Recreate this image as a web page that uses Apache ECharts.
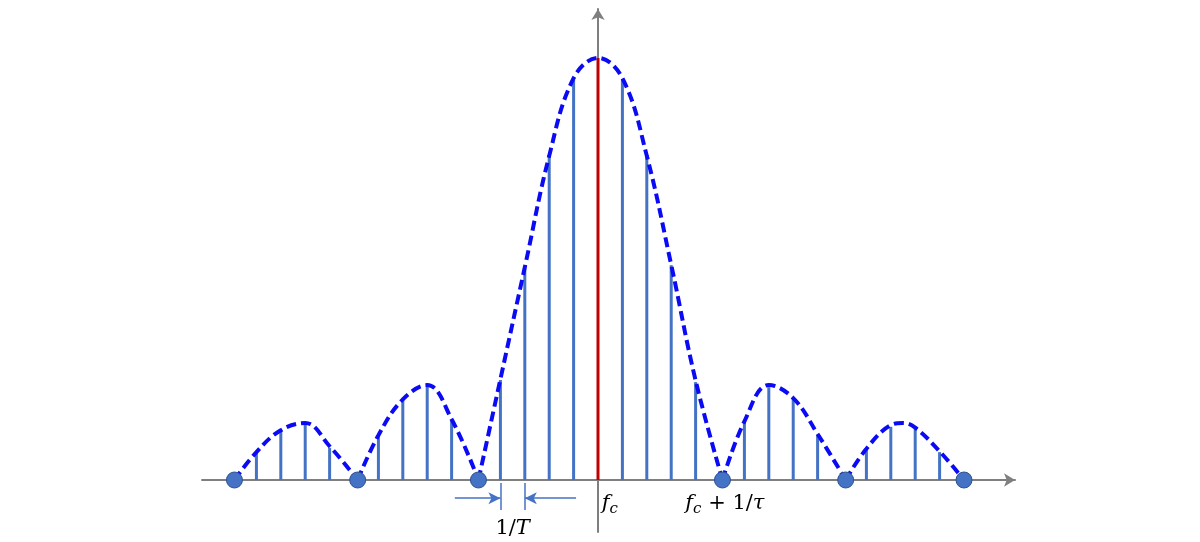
<!DOCTYPE html>
<html><head><meta charset="utf-8">
<script src="https://cdn.jsdelivr.net/npm/echarts@6/dist/echarts.min.js"></script>
<style>html,body{margin:0;padding:0;background:#fff}#c{width:1200px;height:542px}</style>
</head><body><div id="c"></div>
<script>
// Stem positions (in units of 1/T from f_c) and heights (% of peak)
const stemK = [-14,-13,-12,-11,-9,-8,-7,-6,-4,-3,-2,-1,0,1,2,3,4,6,7,8,9,11,12,13,14];
const stemH = [6.4,11.6,13.3,7.6,10.4,19.0,22.3,14.2,23.7,50.2,76.5,94.8,100,94.8,76.5,50.9,23.2,13.7,22.0,19.2,10.7,7.1,12.6,12.1,6.6];
// Zero crossings (dots)
const zeroK = [-14.9,-9.85,-4.9,5.1,10.15,15.0];
// Dashed envelope, one array per lobe: [k, height]
const envOuterLeft = [[-14.9,0],[-14,6.6],[-13,11.8],[-12,13.5],[-11,8.0],[-9.85,0]];
const envInnerLeft = [[-9.85,0],[-9,10.6],[-8,19.1],[-7,22.5],[-6,14.4],[-4.9,0]];
const envMain = [[-4.9,0],[-4,23.9],[-3,50.4],[-2,76.8],[-1,95.2],[0,100],[1,95.2],[2,76.8],[3,51.0],[4,23.6],[5.1,0]];
const envInnerRight = [[5.1,0],[6,13.9],[7,22.5],[8,19.4],[9,10.9],[10.15,0]];
const envOuterRight = [[10.15,0],[11,7.4],[12,13.0],[12.5,13.5],[13,12.4],[14,6.8],[15.0,0]];
// Text labels
const labelFc = '{i|f}{sub|c}';
const labelFcTau = '{i|f}{sub|c}{n| + 1/}{i|τ}';
const labelT = '{n|1/}{i|T}';

const chart = echarts.init(document.getElementById('c'), null, {renderer:'canvas'});
const stemBlue = '#4472C4', stemRed = '#C00000', dashBlue = '#0A0AF5', axisGray = '#7F7F7F';

const envStyle = {type:'line', smooth:0.4, smoothConstraint:false, symbol:'none', z:3,
  lineStyle:{color:dashBlue, width:4, type:[10,5]}};

const rich = {
  i:{fontFamily:'DejaVu Serif', fontStyle:'italic', fontSize:21, lineHeight:27, fill:'#000', color:'#000'},
  n:{fontFamily:'DejaVu Serif', fontSize:21, lineHeight:27, fill:'#000', color:'#000'},
  sub:{fontFamily:'DejaVu Serif', fontStyle:'italic', fontSize:15, lineHeight:15, verticalAlign:'bottom', fill:'#000', color:'#000'}
};

chart.setOption({
  animation:false,
  grid:{left:202, right:185, top:9, bottom:10},
  xAxis:{type:'value', min:-16.23, max:17.09,
    axisLine:{onZero:true, symbol:['none','arrow'], symbolSize:[10,11], lineStyle:{color:axisGray, width:2}},
    axisTick:{show:false}, axisLabel:{show:false}, splitLine:{show:false}},
  yAxis:{type:'value', min:-12.32, max:111.6,
    axisLine:{show:true, onZero:true, symbol:['none','arrow'], symbolSize:[10,11], lineStyle:{color:axisGray, width:2}},
    axisTick:{show:false}, axisLabel:{show:false}, splitLine:{show:false}},
  series:[
    {type:'bar', barWidth:3, z:2,
      data: stemK.map((k,i)=>({value:[k, stemH[i]], itemStyle:{color: k===0 ? stemRed : stemBlue}}))},
    Object.assign({data:envOuterLeft}, envStyle),
    Object.assign({data:envInnerLeft}, envStyle),
    Object.assign({data:envMain}, envStyle),
    Object.assign({data:envInnerRight}, envStyle),
    Object.assign({data:envOuterRight}, envStyle),
    {type:'scatter', z:5, symbolSize:16, data: zeroK.map(k=>[k,0]),
      itemStyle:{color:stemBlue, borderColor:'#2F528F', borderWidth:1, opacity:1}},
    {type:'line', data:[], markLine:{silent:true, symbol:['none','arrow'], symbolSize:[9,12],
      label:{show:false}, lineStyle:{color:stemBlue, width:1.5, type:'solid'},
      data:[[{coord:[-5.87,-4.3]},{coord:[-4.0,-4.3]}],[{coord:[-0.9,-4.3]},{coord:[-3.0,-4.3]}]]}},
    {type:'line', data:[], markLine:{silent:true, symbol:['none','none'],
      label:{show:false}, lineStyle:{color:stemBlue, width:1.5, type:'solid'},
      data:[[{coord:[-4,-0.7]},{coord:[-4,-7.1]}],[{coord:[-3,-0.7]},{coord:[-3,-7.1]}]]}}
  ]
});

function px(p){ return chart.convertToPixel({gridIndex:0}, p); }
const pFc = px([0.15,-2.3]);
const pFcTau = px([5.2,-2.3]);
const pT = px([-3.5,-8.2]);
chart.setOption({graphic:[
  {type:'text', x:pFc[0], y:pFc[1], style:{text:labelFc, rich:rich, align:'left', verticalAlign:'top'}},
  {type:'text', x:pFcTau[0], y:pFcTau[1], style:{text:labelFcTau, rich:rich, align:'center', verticalAlign:'top'}},
  {type:'text', x:pT[0], y:pT[1], style:{text:labelT, rich:rich, align:'center', verticalAlign:'top'}}
]});
</script></body></html>
